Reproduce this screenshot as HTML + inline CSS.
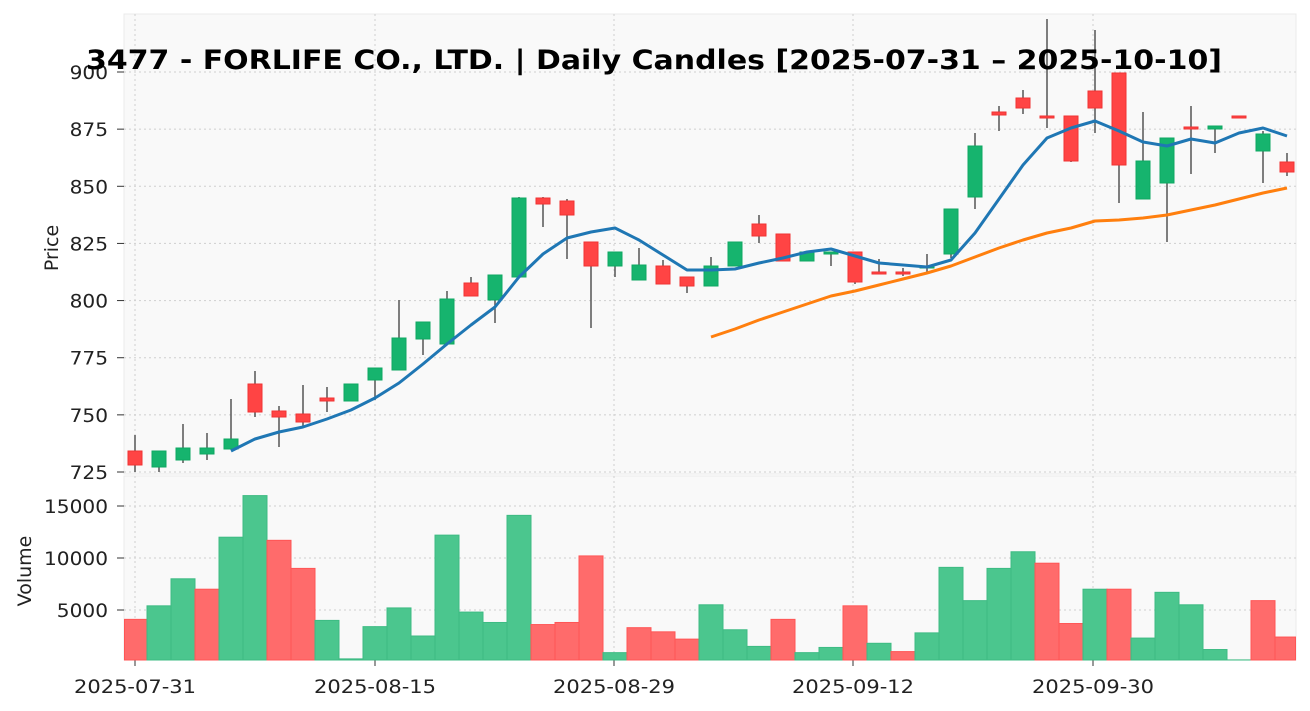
<!DOCTYPE html>
<html><head><meta charset="utf-8"><style>
html,body{margin:0;padding:0;background:#fff;}
svg{display:block;font-family:"DejaVu Sans","Liberation Sans",sans-serif;}
</style></head><body>
<svg id="s" width="1310" height="711" xmlns="http://www.w3.org/2000/svg"></svg>
<script>
const s=document.getElementById('s');let h='';
const L=124,R=1296,PT=14,PB=474,VT=476,VB=660;
h+=`<rect x="${L}" y="${PT}" width="${R-L}" height="${PB-PT}" fill="#f9f9f9" stroke="#ebebeb"/>`;
h+=`<rect x="${L}" y="${VT}" width="${R-L}" height="${VB-VT}" fill="#f9f9f9" stroke="#ebebeb"/>`;
const py=p=>72+(900-p)*400/175;
const vy=v=>662-v*0.0104;
const xs=[135,375,614,853,1093],xl=['2025-07-31','2025-08-15','2025-08-29','2025-09-12','2025-09-30'];
xs.forEach((x,i)=>{h+=`<line x1="${x}" y1="${PT}" x2="${x}" y2="${PB}" stroke="#cfcfcf" stroke-dasharray="2,3"/><line x1="${x}" y1="${VT}" x2="${x}" y2="${VB}" stroke="#cfcfcf" stroke-dasharray="2,3"/><line x1="${x}" y1="660" x2="${x}" y2="666" stroke="#333"/><text x="${x}" y="693" font-size="19" text-anchor="middle" fill="#222" textLength="122" lengthAdjust="spacingAndGlyphs">${xl[i]}</text>`;});
const yl=(y,t)=>`<line x1="117" y1="${y}" x2="124" y2="${y}" stroke="#333"/><text x="108" y="${y+7}" font-size="19" text-anchor="end" fill="#222" textLength="${t.length*12.8}" lengthAdjust="spacingAndGlyphs">${t}</text>`;
for(let p=725;p<=900;p+=25){const y=py(p);h+=`<line x1="${L}" y1="${y}" x2="${R}" y2="${y}" stroke="#cfcfcf" stroke-dasharray="2,3"/>`+yl(y,''+p);}
[5000,10000,15000].forEach(v=>{const y=vy(v);h+=`<line x1="${L}" y1="${y}" x2="${R}" y2="${y}" stroke="#cfcfcf" stroke-dasharray="2,3"/>`+yl(y,''+v);});
const vol=[[4100,'r'],[5400,'g'],[8000,'g'],[7000,'r'],[12000,'g'],[16000,'g'],[11700,'r'],[9000,'r'],[4000,'g'],[300,'g'],[3400,'g'],[5200,'g'],[2500,'g'],[12200,'g'],[4800,'g'],[3800,'g'],[14100,'g'],[3600,'r'],[3800,'r'],[10200,'r'],[900,'g'],[3300,'r'],[2900,'r'],[2200,'r'],[5500,'g'],[3100,'g'],[1500,'g'],[4100,'r'],[900,'g'],[1400,'g'],[5400,'r'],[1800,'g'],[1000,'r'],[2800,'g'],[9100,'g'],[5900,'g'],[9000,'g'],[10600,'g'],[9500,'r'],[3700,'r'],[7000,'g'],[7000,'r'],[2300,'g'],[6700,'g'],[5500,'g'],[1200,'g'],[200,'g'],[5900,'r'],[2400,'r']];
vol.forEach((d,i)=>{let x1=Math.max(135+24*i-12,124.5),x2=Math.min(135+24*i+12,1295.5);const y=vy(d[0]);const c=d[1]=='g'?'#4bc68e':'#ff6b6b',st=d[1]=='g'?'#3dbb83':'#ff5555';h+=`<rect x="${x1}" y="${y}" width="${x2-x1}" height="${VB-y}" fill="${c}" stroke="${st}" stroke-width="1"/>`;});
const C=[[451,465,435,472,'r'],[451,467,451,472,'g'],[448,460,424,463,'g'],[448,454,433,460,'g'],[439,449,399,449,'g'],[384,412,371,417,'r'],[411,417,406,447,'r'],[414,422,385,426,'r'],[398,401,387,412,'r'],[384,401,384,401,'g'],[368,380,368,400,'g'],[338,370,300,370,'g'],[322,339,322,355,'g'],[299,344,291,344,'g'],[283,296,277,296,'r'],[275,300,275,323,'g'],[198,277,197,277,'g'],[198,204,197,227,'r'],[201,215,199,259,'r'],[242,266,242,328,'r'],[252,266,252,277,'g'],[265,280,248,280,'g'],[266,284,260,284,'r'],[277,286,277,293,'r'],[266,286,257,286,'g'],[242,266,242,266,'g'],[224,236,215,243,'r'],[234,261,234,261,'r'],[252,261,252,261,'g'],[252,254,252,266,'g'],[252,282,252,284,'r'],[272,274,259,274,'r'],[272,274,268,276,'r'],[266,268,254,272,'g'],[209,254,209,258,'g'],[146,197,133,209,'g'],[112,115,106,131,'r'],[98,108,90,114,'r'],[116,118,19,128,'r'],[116,161,116,162,'r'],[91,108,30,133,'r'],[73,165,73,203,'r'],[161,199,112,199,'g'],[138,183,138,242,'g'],[127,129,106,174,'r'],[126,129,126,153,'g'],[116,118,116,118,'r'],[134,151,131,183,'g'],[162,172,153,176,'r']];
C.forEach((d,i)=>{const x=135+24*i;const f=d[4]=='g'?'#16b46e':'#ff4444',st=d[4]=='g'?'#0fa862':'#f03333';h+=`<line x1="${x}" y1="${d[2]}" x2="${x}" y2="${d[3]}" stroke="#555" stroke-width="1.5"/><rect x="${x-7}" y="${d[0]}" width="14" height="${Math.max(d[1]-d[0],1.5)}" fill="${f}" stroke="${st}" stroke-width="1"/>`;});
const ma5=[451,439,432,427,419,410,398,383,364,344,325,307,277,254,238,232,228,240,255,270,270,269,263,258,252,249,256,263,265,267,260,233,199,165,138,128,121,131,142,146,139,143,133,128,136];
h+=`<polyline fill="none" stroke="#1f77b4" stroke-width="3" stroke-linejoin="round" points="${ma5.map((y,i)=>(135+24*(i+4))+','+y).join(' ')}"/>`;
const ma20=[337,329,320,312,304,296,291,285,279,273,266,257,248,240,233,228,221,220,218,215,210,205,199,193,188];
h+=`<polyline fill="none" stroke="#ff7f0e" stroke-width="3" stroke-linejoin="round" points="${ma20.map((y,i)=>(135+24*(i+24))+','+y).join(' ')}"/>`;
h+=`<text x="654" y="69" font-size="27" font-weight="bold" text-anchor="middle" fill="#000" textLength="1136" lengthAdjust="spacingAndGlyphs">3477 - FORLIFE CO., LTD. | Daily Candles [2025-07-31 – 2025-10-10]</text>`;
h+=`<text transform="translate(58,248) rotate(-90)" font-size="19" text-anchor="middle" fill="#222">Price</text>`;
h+=`<text transform="translate(31,571) rotate(-90)" font-size="19" text-anchor="middle" fill="#222">Volume</text>`;
s.innerHTML=h;
</script>
</body></html>
